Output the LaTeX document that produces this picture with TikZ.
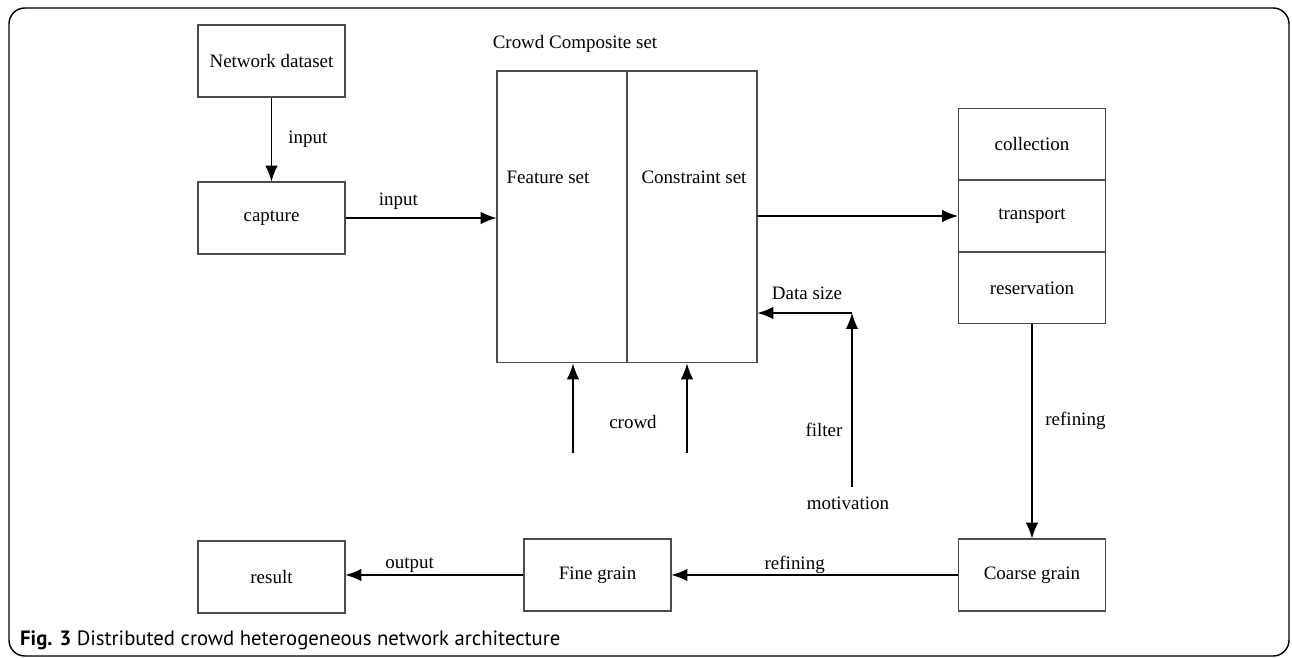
\documentclass[tikz,border=0pt]{standalone}
\usepackage{fontspec}
\setmainfont{Liberation Serif}
\newfontfamily\capfont{PT Sans}
\usetikzlibrary{arrows.meta}

\begin{document}
\begin{tikzpicture}[x=0.02cm, y=-0.02cm]
\tikzset{
    box/.style={rectangle, draw=black!70, line width=0.6pt, minimum width=2.94cm, minimum height=1.44cm, inner sep=0pt},
    half/.style={rectangle, draw=black!70, line width=0.6pt, minimum width=2.6cm, minimum height=5.84cm, inner sep=0pt},
    stack/.style={box, minimum height=1.43cm},
    every node/.style={font=\fontsize{10.8}{13}\selectfont, text centered},
    edge/.style={-{Latex[length=9pt, width=7pt]}, line width=0.6pt},
    line/.style={line width=0.6pt}
}
\useasboundingbox (0,0) rectangle (1292,658);

% outer frame
\draw[line width=0.8pt, rounded corners=9pt] (9,8) rectangle (1289,656);

% boxes
\node[box] (data) at (271.5,61) {Network dataset};
\node[box] (capt) at (271.5,218) {capture};
\node[half] (feat) at (562,217) {};
\node[half] (cons) at (692,217) {};
\node[stack] (coll) at (1032,144) {collection};
\node[stack] (trans) at (1032,216) {transport};
\node[stack] (resv) at (1032,288) {reservation};
\node[box] (coarse) at (1032,575) {Coarse grain};
\node[box] (fine) at (597.5,575) {Fine grain};
\node[box] (result) at (271.5,577) {result};

% texts in and above the composite set
\node (comp) at (575,44) {Crowd Composite set};
\node (featlbl) at (548,177) {Feature set};
\node (conslbl) at (694,177) {Constraint set};

% free ends of the arrows
\coordinate (crowd1) at (573,453);
\coordinate (crowd2) at (687,453);
\coordinate (mot) at (852,487);
\coordinate (ds) at (852,313);

% arrows
\draw[edge] (data) -- (capt) node[midway, right=6pt] {input};
\draw[edge] (capt.east) -- (capt.east -| feat.west) node[pos=0.35, above=1pt] {input};
\draw[edge] (cons.east |- trans.west) -- (trans.west);
\draw[edge] (crowd1) -- (crowd1 |- feat.south);
\draw[edge] (crowd2) -- (crowd2 |- cons.south);
\draw[edge] (mot) -- (ds);
\draw[edge] (ds) -- (ds -| cons.east);
\draw[edge] (resv) -- (coarse) node[pos=0.45, right=4pt] {refining};
\draw[edge] (coarse) -- (fine) node[pos=0.57, above=-3pt] {refining};
\draw[edge] (fine.west) -- (fine.west -| result.east) node[pos=0.64, above=-2pt] {output};

% labels
\node (crowdlbl) at (633,422) {crowd};
\node (dslbl) at (807,293) {Data size};
\node (filt) at (824,430) {filter};
\node (motlbl) at (848,503) {motivation};

% caption
\node[anchor=west, font=\capfont\fontsize{11.8}{14}\selectfont] (cap) at (14,640) {\textbf{Fig. 3} Distributed crowd heterogeneous network architecture};
\end{tikzpicture}
\end{document}
